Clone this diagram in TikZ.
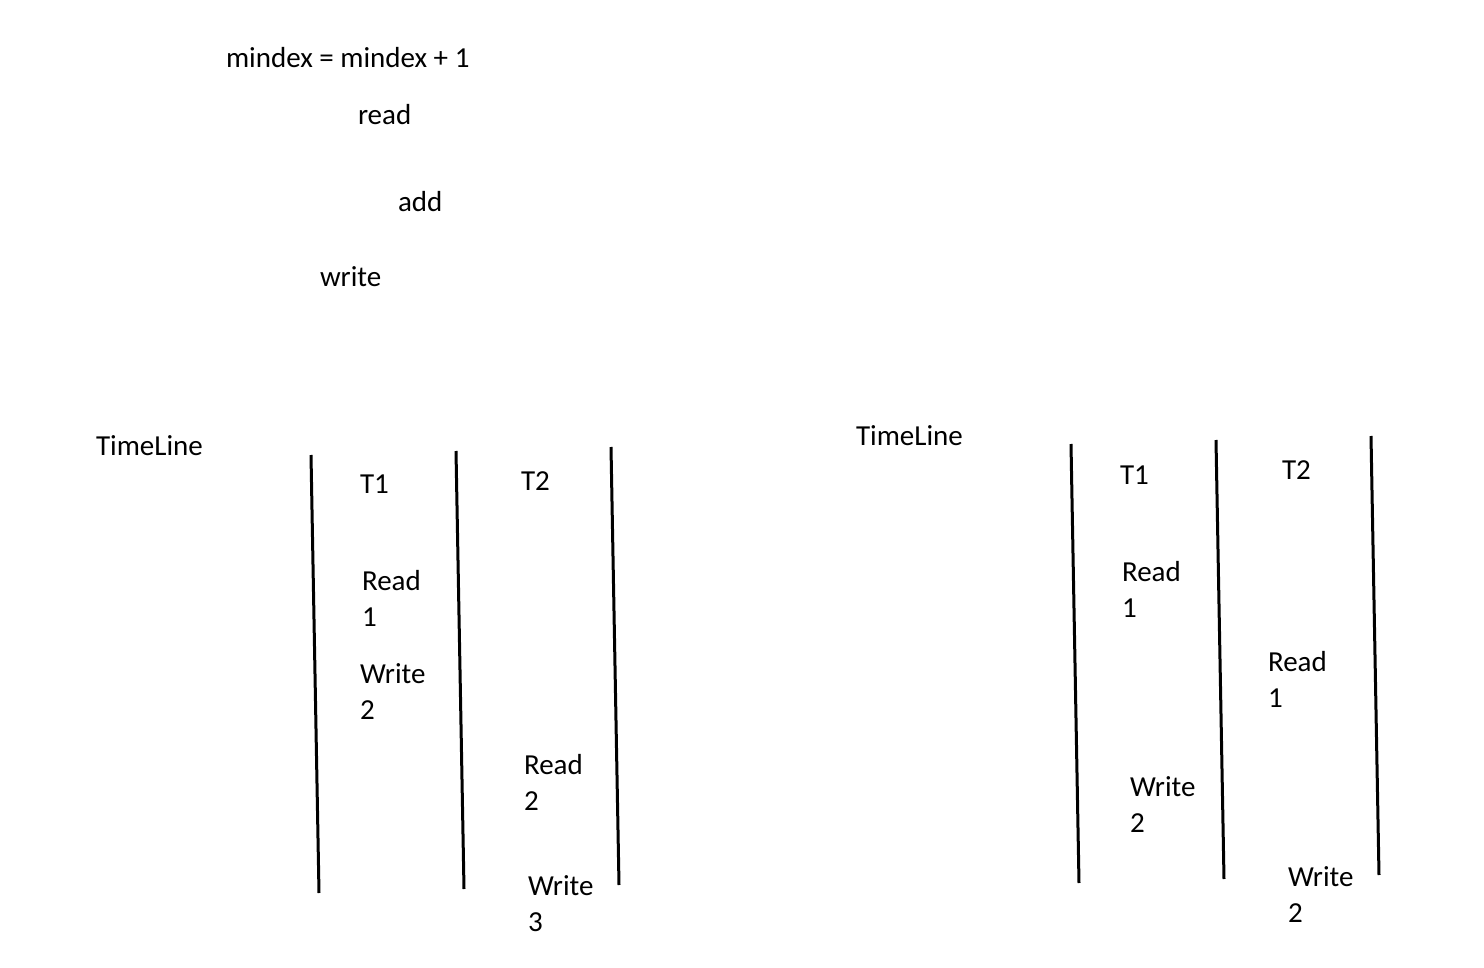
\documentclass[tikz,border=0pt]{standalone}
\usepackage{fontspec}
\setmainfont{Carlito}
\usepackage{tikz}

\begin{document}
\begin{tikzpicture}[
                x=0.5pt, y=-0.5pt,
                txt/.style = {
                    anchor = west,
                    align = left,
                    inner sep = 0pt,
                    outer sep = 0pt,
                    font = \fontsize{14.5}{18}\selectfont
                },
                lane/.style = {
                    line width = 1.5pt,
                    black
                }
            ]
            \useasboundingbox (0,0) rectangle (1484,968);
            % statement and its steps
            \node[txt] (stmt) at (226,58) {mindex = mindex + 1};
            \node[txt] (rd) at (358,115) {read};
            \node[txt] (ad) at (398,202) {add};
            \node[txt] (wr) at (320,277) {write};
            %
            % left timeline
            \node[txt] (tl1) at (96,446) {TimeLine};
            \node[txt] (a1) at (360,484) {T1};
            \node[txt] (a2) at (521,481) {T2};
            \node[txt] (a3) at (362,598) {Read\\1};
            \node[txt] (a4) at (360,692) {Write\\2};
            \node[txt] (a5) at (524,782) {Read\\2};
            \node[txt] (a6) at (528,904) {Write\\3};
            %
            \draw[lane] (311,455) -- (319,893);
            \draw[lane] (456,451) -- (464,889);
            \draw[lane] (611,447) -- (619,885);
            %
            % right timeline
            \node[txt] (tl2) at (856,436) {TimeLine};
            \node[txt] (b1) at (1120,475) {T1};
            \node[txt] (b2) at (1282,470) {T2};
            \node[txt] (b3) at (1122,589) {Read\\1};
            \node[txt] (b4) at (1268,679) {Read\\1};
            \node[txt] (b5) at (1130,805) {Write\\2};
            \node[txt] (b6) at (1288,895) {Write\\2};
            %
            \draw[lane] (1071,444) -- (1079,883);
            \draw[lane] (1216,440) -- (1224,879);
            \draw[lane] (1371,436) -- (1379,875);
            %
        \end{tikzpicture}
\end{document}
